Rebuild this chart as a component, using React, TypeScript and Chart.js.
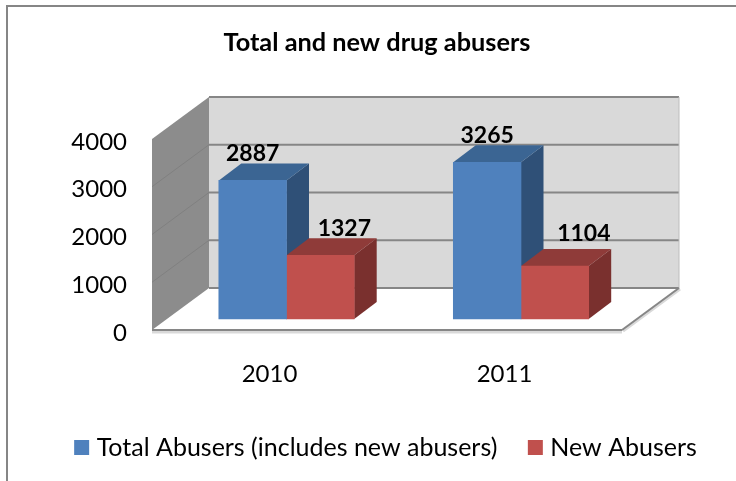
import React, { useEffect, useRef } from "react";
import { Chart, registerables } from "chart.js";

Chart.register(...registerables);

const categories = ["2010", "2011"];
const seriesNames = ["Total Abusers (includes new abusers)", "New Abusers"];
const totalAbusers = [2887, 3265];
const newAbusers = [1327, 1104];
const yTickStep = 1000;
const yMax = 4000;

const FONT = "Lato, 'Noto Sans', sans-serif";
const FRONT = ["#4F81BD", "#C0504D"];
const TOP = ["#3B6593", "#8F3B39"];
const SIDE = ["#2F5077", "#7A302E"];
const GRID = "#868686";

const WALL_DX = 57;
const WALL_DY = 42;
const BAR_DX = 22.5;
const BAR_DY = 17;
// hand placement of the value labels relative to each bar's top centre
const LABEL_SHIFT = [
  [[0, -27], [0, -27]],
  [[24, -27], [29, -32]],
];

function poly(ctx: CanvasRenderingContext2D, pts: number[][], fill: string) {
  ctx.beginPath();
  pts.forEach((p, i) => (i ? ctx.lineTo(p[0], p[1]) : ctx.moveTo(p[0], p[1])));
  ctx.closePath();
  ctx.fillStyle = fill;
  ctx.fill();
}
function seg(ctx: CanvasRenderingContext2D, x1: number, y1: number, x2: number, y2: number, c: string, w: number) {
  ctx.beginPath();
  ctx.moveTo(x1, y1);
  ctx.lineTo(x2, y2);
  ctx.strokeStyle = c;
  ctx.lineWidth = w;
  ctx.stroke();
}

const scene = {
  id: "scene3d",
  afterLayout(chart: any) {
    const shift = 11;
    chart.legend.left += shift;
    chart.legend.right += shift;
  },
  beforeDatasetsDraw(chart: any) {
    const ctx = chart.ctx as CanvasRenderingContext2D;
    const { left, right, top, bottom } = chart.chartArea;
    const yS = chart.scales.y;
    ctx.save();
    // frame
    seg(ctx, 7, 6, 736, 6, GRID, 2);
    seg(ctx, 7, 5, 7, 481, GRID, 2);
    // floor edge shadow
    seg(ctx, left, bottom + 2, right, bottom + 2, "#D9D9D9", 3);
    seg(ctx, right + 1, bottom + 1, right + WALL_DX + 1, bottom - WALL_DY + 1, "#D9D9D9", 3);
    // back wall
    poly(ctx, [[left + WALL_DX, top - WALL_DY], [right + WALL_DX, top - WALL_DY], [right + WALL_DX, bottom - WALL_DY], [left + WALL_DX, bottom - WALL_DY]], "#D9D9D9");
    // left wall
    poly(ctx, [[left, top], [left + WALL_DX, top - WALL_DY], [left + WALL_DX, bottom - WALL_DY], [left, bottom]], "#8C8C8C");
    // gridlines
    for (let v = 0; v <= yMax; v += yTickStep) {
      const py = yS.getPixelForValue(v);
      seg(ctx, left + WALL_DX, py - WALL_DY, right + WALL_DX, py - WALL_DY, GRID, 2);
      if (v > 0 && v < yMax) seg(ctx, left, py, left + WALL_DX, py - WALL_DY, "#808080", 1);
    }
    seg(ctx, right + WALL_DX, top - WALL_DY, right + WALL_DX, bottom - WALL_DY, "#BDBDBD", 1);
    // floor front and right edges
    seg(ctx, left, bottom, right, bottom, GRID, 2);
    seg(ctx, right, bottom, right + WALL_DX, bottom - WALL_DY, GRID, 2);
    // bar tops and sides
    chart.data.datasets.forEach((_: any, d: number) => {
      chart.getDatasetMeta(d).data.forEach((el: any) => {
        const l = el.x - el.width / 2;
        const r = el.x + el.width / 2;
        poly(ctx, [[r, el.y], [r + BAR_DX, el.y - BAR_DY], [r + BAR_DX, el.base - BAR_DY], [r, el.base]], SIDE[d]);
        poly(ctx, [[l, el.y], [l + BAR_DX, el.y - BAR_DY], [r + BAR_DX, el.y - BAR_DY], [r, el.y]], TOP[d]);
      });
    });
    ctx.restore();
  },
  afterDatasetsDraw(chart: any) {
    const ctx = chart.ctx as CanvasRenderingContext2D;
    ctx.save();
    ctx.font = `bold 23px ${FONT}`;
    ctx.fillStyle = "#000";
    ctx.textAlign = "center";
    ctx.textBaseline = "middle";
    chart.data.datasets.forEach((ds: any, d: number) => {
      chart.getDatasetMeta(d).data.forEach((el: any, i: number) => {
        const s = LABEL_SHIFT[d][i];
        ctx.fillText(String(ds.data[i].y), el.x + s[0], el.y + s[1]);
      });
    });
    ctx.restore();
  },
};

export default function App() {
  const ref = useRef<HTMLCanvasElement>(null);
  useEffect(() => {
    const chart = new Chart(ref.current as HTMLCanvasElement, {
      type: "bar",
      plugins: [scene],
      data: {
        labels: categories,
        datasets: [totalAbusers, newAbusers].map((vals, d) => ({
          label: seriesNames[d],
          data: vals.map((y, i) => ({ x: i, y })),
          backgroundColor: FRONT[d],
          borderWidth: 0,
          xAxisID: "x1",
          yAxisID: "y1",
          barThickness: 67.7,
        })),
      } as any,
      options: {
        responsive: false,
        animation: false,
        layout: { padding: { left: 18, right: 0, top: 0, bottom: 11 } },
        scales: {
          x: {
            type: "category",
            labels: categories,
            offset: true,
            position: "bottom",
            grid: { display: false, drawTicks: false },
            border: { display: false },
            ticks: { color: "#000", font: { family: FONT, size: 24 }, padding: 30, maxRotation: 0 },
            afterFit(s: any) { s.height = 69.5; },
          },
          y: {
            type: "linear",
            position: "left",
            min: 0,
            max: yMax,
            grid: { display: false, drawTicks: false },
            border: { display: false },
            ticks: {
              stepSize: yTickStep,
              color: "#000",
              font: { family: FONT, size: 24 },
              padding: 25,
              labelOffset: 3,
              callback: (v: any) => String(v),
            },
            afterFit(s: any) { s.width = 134; },
          },
          x1: {
            type: "linear",
            axis: "x",
            display: false,
            offset: false,
            min: -0.5736,
            max: 1.4307,
            grid: { display: false },
          },
          y1: {
            type: "linear",
            axis: "y",
            position: "right",
            min: -229,
            max: 3750,
            grid: { display: false, drawTicks: false },
            border: { display: false },
            ticks: { display: false },
            afterFit(s: any) { s.width = 114; },
          },
        },
        plugins: {
          title: {
            display: true,
            text: "Total and new drug abusers",
            color: "#000",
            font: { family: FONT, size: 25.3, weight: "bold" },
            padding: { top: 28, bottom: 80.6 },
          },
          legend: {
            position: "bottom",
            labels: {
              color: "#000",
              font: { family: FONT, size: 25 },
              boxWidth: 5,
              boxHeight: 5,
              padding: 35.5,
              generateLabels(c: any) {
                return Chart.defaults.plugins.legend.labels.generateLabels(c).map((l: any) => ({
                  ...l,
                  lineWidth: 10,
                  strokeStyle: l.fillStyle,
                }));
              },
            },
          },
          tooltip: { enabled: false },
        },
      } as any,
    });
    return () => chart.destroy();
  }, []);
  return (
    <div style={{ position: "absolute", left: 0, top: 0, width: 736, height: 481, background: "#fff" }}>
      <canvas ref={ref} width={736} height={481} style={{ display: "block" }} />
    </div>
  );
}
